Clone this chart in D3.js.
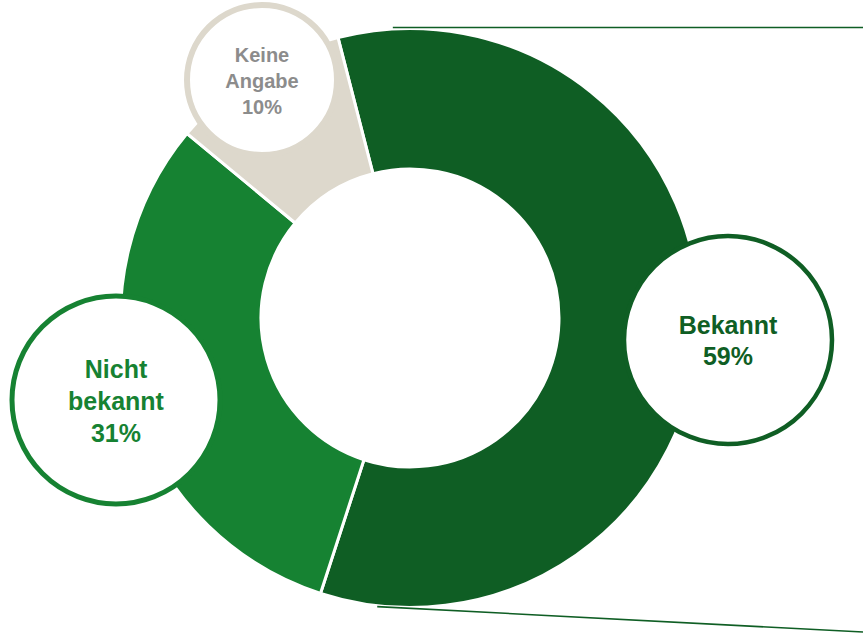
<!DOCTYPE html>
<html lang="de">
<head>
    <meta charset="UTF-8">
    <title>Bekanntheit</title>
    <style>
        body { margin: 0; background: #fff; }
        svg { display: block; }
        text { font-family: "Liberation Sans", Arial, sans-serif; font-weight: bold; }
    </style>
</head>
<script src="https://cdn.jsdelivr.net/npm/d3@7"></script>
<body>
    <div id="graphic"></div>
    <script>
        // data
        var categories = ['Bekannt', 'Nicht bekannt', 'Keine Angabe'];
        var values = [59, 31, 10];
        var labelLines = [['Bekannt', '59%'], ['Nicht', 'bekannt', '31%'], ['Keine', 'Angabe', '10%']];
        var colors = ['#0f5e24', '#168232', '#ddd8cc'];
        var textColors = ['#0f5e24', '#168232', '#8c8c8c'];

        var width = 863, height = 633;
        var cx = 410, cy = 318, outerR = 289.5, innerR = 149;
        var startDeg = -14.4;

        var svg = d3.select('#graphic').append('svg')
            .attr('width', width)
            .attr('height', height);

        var data = categories.map(function (c, i) { return { name: c, value: values[i], i: i }; });

        var pie = d3.pie()
            .sort(null)
            .value(function (d) { return d.value; })
            .startAngle(startDeg * Math.PI / 180)
            .endAngle(startDeg * Math.PI / 180 + 2 * Math.PI);

        var arc = d3.arc().innerRadius(innerR).outerRadius(outerR);

        var g = svg.append('g').attr('transform', 'translate(' + cx + ',' + cy + ')');
        g.selectAll('path')
            .data(pie(data))
            .join('path')
            .attr('d', arc)
            .attr('fill', function (d) { return colors[d.data.i]; })
            .attr('stroke', '#fff')
            .attr('stroke-width', 3);

        // connector lines to the right (drawn over the ring edge)
        var pt = function (deg, r) {
            var a = deg * Math.PI / 180;
            return [cx + r * Math.sin(a), cy - r * Math.cos(a)];
        };
        var topPt = pt(-3.4, outerR);
        var botPt = pt(186.5, outerR);
        svg.append('line')
            .attr('x1', topPt[0]).attr('y1', cy - outerR - 1)
            .attr('x2', width).attr('y2', cy - outerR - 1)
            .attr('stroke', colors[0]).attr('stroke-width', 1.6);
        svg.append('line')
            .attr('x1', botPt[0]).attr('y1', botPt[1] + 1)
            .attr('x2', width).attr('y2', 632)
            .attr('stroke', colors[0]).attr('stroke-width', 1.6);

        // label bubbles
        var bubbles = [
            { x: 728, y: 340, r: 104, sw: 4.5, fs: 25, lh: 31 },
            { x: 116, y: 400, r: 104, sw: 5, fs: 25, lh: 32 },
            { x: 262, y: 80, r: 75, sw: 6, fs: 20, lh: 26 }
        ];

        bubbles.forEach(function (b, i) {
            svg.append('circle')
                .attr('cx', b.x).attr('cy', b.y).attr('r', b.r)
                .attr('fill', '#fff')
                .attr('stroke', colors[i])
                .attr('stroke-width', b.sw);
            var lines = labelLines[i];
            var t = svg.append('text')
                .attr('text-anchor', 'middle')
                .attr('fill', textColors[i])
                .attr('font-size', b.fs);
            var y0 = b.y - (lines.length - 1) * b.lh / 2 + b.fs * 0.38;
            lines.forEach(function (l, k) {
                t.append('tspan').attr('x', b.x).attr('y', y0 + k * b.lh).text(l);
            });
        });
    </script>
</body>
</html>
